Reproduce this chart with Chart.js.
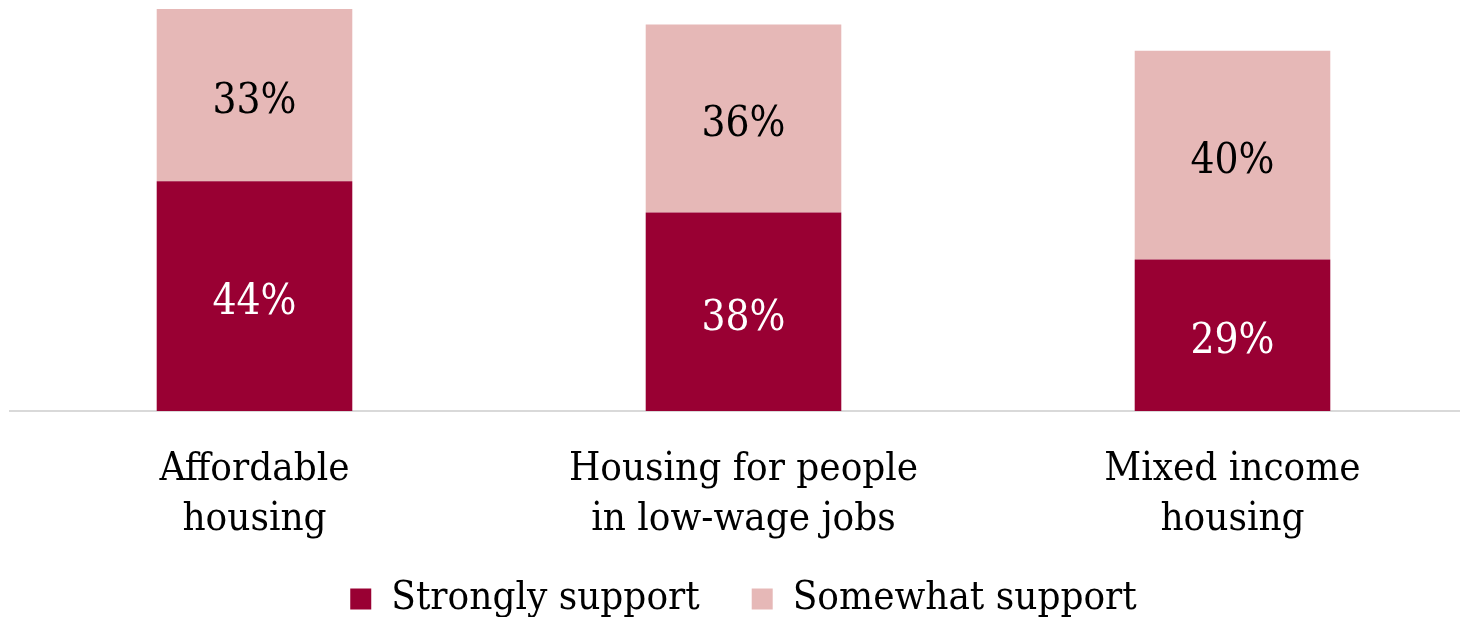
<!DOCTYPE html>
<html>
<head>
<meta charset="utf-8">
<title>Support for housing types</title>
<script src="https://cdn.jsdelivr.net/npm/chart.js@4/dist/chart.umd.min.js"></script>
<style>
  html, body { margin: 0; padding: 0; background: #fff; overflow: hidden; }
  #wrap { position: relative; width: 1480px; height: 629px; }
</style>
</head>
<body>
<div id="wrap"><canvas id="chart"></canvas></div>
<script>
// --- data ---
const categories = [
    ['Affordable', 'housing'],
    ['Housing for people', 'in low-wage jobs'],
    ['Mixed income', 'housing']
];
const seriesNames = ['Strongly support', 'Somewhat support'];
const stronglySupport = [44, 38, 29];
const somewhatSupport = [33, 36, 40];

const SERIF = "'DejaVu Serif Condensed', 'DejaVu Serif', serif";
const DARK = '#990033';
const LIGHT = '#E6B8B7';

// value labels centred inside each stacked segment
const segmentLabels = {
    id: 'segmentLabels',
    afterDatasetsDraw(chart) {
        const { ctx } = chart;
        ctx.save();
        ctx.font = `42px ${SERIF}`;
        ctx.textAlign = 'center';
        ctx.textBaseline = 'middle';
        chart.data.datasets.forEach((ds, i) => {
            const meta = chart.getDatasetMeta(i);
            ctx.fillStyle = ds.labelColor;
            meta.data.forEach((bar, j) => {
                const yMid = (bar.y + bar.base) / 2 + 7;
                ctx.fillText(ds.data[j] + '%', bar.x, yMid);
            });
        });
        ctx.restore();
    }
};

// the x axis is kept short so the legend sits close; let its labels
// run past the axis box instead of being clipped
const unclipAxis = {
    id: 'unclipAxis',
    afterLayout(chart) {
        chart.scales.x.bottom = chart.height;
    }
};

const ctx = document.getElementById('chart').getContext('2d');
new Chart(ctx, {
    type: 'bar',
    data: {
        labels: categories,
        datasets: [
            { label: seriesNames[0], data: stronglySupport, backgroundColor: DARK, labelColor: '#ffffff' },
            { label: seriesNames[1], data: somewhatSupport, backgroundColor: LIGHT, labelColor: '#000000' }
        ]
    },
    options: {
        responsive: true,
        maintainAspectRatio: false,
        animation: false,
        datasets: { bar: { categoryPercentage: 1, barPercentage: 0.4 } },
        layout: { padding: { left: 10, right: 3, top: 0, bottom: 0 } },
        plugins: {
            legend: {
                position: 'bottom',
                labels: {
                    color: '#000',
                    font: { family: SERIF, size: 40 },
                    boxWidth: 21,
                    boxHeight: 21,
                    padding: 52
                }
            },
            tooltip: { enabled: false }
        },
        scales: {
            x: {
                stacked: true,
                grid: { display: false },
                border: { display: true, color: '#d9d9d9', width: 2 },
                ticks: {
                    color: '#000',
                    font: { family: SERIF, size: 40, lineHeight: 1.25 },
                    padding: 26,
                    maxRotation: 0,
                    autoSkip: false
                },
                afterFit(scale) { scale.height = 116; }
            },
            y: {
                stacked: true,
                display: false,
                min: 0,
                max: 78.7
            }
        }
    },
    plugins: [segmentLabels, unclipAxis]
});
</script>
</body>
</html>
